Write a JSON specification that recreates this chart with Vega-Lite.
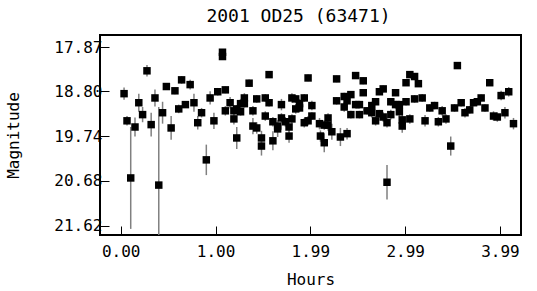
{
  "$schema": "https://vega.github.io/schema/vega-lite/v6.json",
  "autosize": {"type": "none"},
  "padding": {"left": 100, "top": 35, "right": 16, "bottom": 56},
  "width": 421,
  "height": 200,
  "background": "white",
  "title": {"text": "2001 OD25 (63471)", "font": "DejaVu Sans Mono", "fontSize": 18, "fontWeight": "normal", "color": "#000", "anchor": "middle", "dx": -12, "offset": 9},
  "config": {
    "view": {"stroke": "#000", "strokeWidth": 2},
    "axis": {"labelFont": "DejaVu Sans Mono", "labelFontSize": 16, "labelColor": "#000", "titleFont": "DejaVu Sans Mono", "titleFontSize": 16, "titleFontWeight": "normal", "titleColor": "#000", "tickColor": "#000", "tickWidth": 1, "tickSize": -9, "domain": false, "grid": false}
  },
  "data": {"values": [
    {"h":0.035,"mag":18.85,"err":0.13},{"h":0.066,"mag":19.42,"err":0.10},{"h":0.105,"mag":20.62,"err":1.07},{"h":0.15,"mag":19.55,"err":0.20},
    {"h":0.19,"mag":19.04,"err":0.19},{"h":0.23,"mag":19.29,"err":0.16},{"h":0.276,"mag":18.37,"err":0.12},{"h":0.32,"mag":19.50,"err":0.25},
    {"h":0.36,"mag":18.94,"err":0.18},{"h":0.40,"mag":20.77,"err":1.64},{"h":0.44,"mag":19.25,"err":0.23},{"h":0.48,"mag":18.70,"err":0.07},
    {"h":0.53,"mag":19.57,"err":0.25},{"h":0.57,"mag":18.79,"err":0.07},{"h":0.61,"mag":19.17,"err":0.09},{"h":0.64,"mag":18.56,"err":0.08},
    {"h":0.68,"mag":19.08,"err":0.07},{"h":0.73,"mag":18.66,"err":0.10},{"h":0.77,"mag":19.04,"err":0.19},{"h":0.81,"mag":19.46,"err":0.14},
    {"h":0.85,"mag":19.25,"err":0.10},{"h":0.90,"mag":20.24,"err":0.32},{"h":0.94,"mag":18.94,"err":0.14},{"h":0.98,"mag":19.42,"err":0.17},
    {"h":1.02,"mag":18.81,"err":0.08},{"h":1.07,"mag":17.98,"err":0.06},{"h":1.07,"mag":18.07,"err":0.06},{"h":1.10,"mag":18.77,"err":0.07},
    {"h":1.10,"mag":19.21,"err":0.10},{"h":1.15,"mag":19.04,"err":0.12},{"h":1.19,"mag":19.21,"err":0.10},{"h":1.19,"mag":19.38,"err":0.12},
    {"h":1.22,"mag":19.17,"err":0.08},{"h":1.22,"mag":19.78,"err":0.23},{"h":1.26,"mag":19.06,"err":0.10},{"h":1.26,"mag":19.23,"err":0.08},
    {"h":1.30,"mag":18.94,"err":0.10},{"h":1.30,"mag":19.06,"err":0.08},{"h":1.35,"mag":18.63,"err":0.08},{"h":1.39,"mag":19.21,"err":0.10},
    {"h":1.39,"mag":19.53,"err":0.17},{"h":1.43,"mag":18.96,"err":0.08},{"h":1.43,"mag":19.57,"err":0.12},{"h":1.48,"mag":19.78,"err":0.15},
    {"h":1.48,"mag":19.95,"err":0.20},{"h":1.52,"mag":18.94,"err":0.08},{"h":1.52,"mag":19.32,"err":0.10},{"h":1.56,"mag":18.45,"err":0.07},
    {"h":1.56,"mag":19.04,"err":0.08},{"h":1.60,"mag":19.44,"err":0.10},{"h":1.60,"mag":19.84,"err":0.20},{"h":1.65,"mag":19.53,"err":0.12},
    {"h":1.65,"mag":19.59,"err":0.17},{"h":1.69,"mag":19.08,"err":0.12},{"h":1.69,"mag":19.36,"err":0.10},{"h":1.73,"mag":19.44,"err":0.10},
    {"h":1.77,"mag":19.55,"err":0.12},{"h":1.77,"mag":19.74,"err":0.14},{"h":1.80,"mag":18.94,"err":0.10},{"h":1.80,"mag":19.38,"err":0.10},
    {"h":1.84,"mag":18.96,"err":0.08},{"h":1.84,"mag":19.17,"err":0.10},{"h":1.88,"mag":19.06,"err":0.10},{"h":1.88,"mag":19.15,"err":0.08},
    {"h":1.93,"mag":18.94,"err":0.08},{"h":1.93,"mag":19.46,"err":0.10},{"h":1.97,"mag":18.52,"err":0.07},{"h":1.97,"mag":19.42,"err":0.10},
    {"h":2.01,"mag":19.10,"err":0.10},{"h":2.01,"mag":19.32,"err":0.08},{"h":2.09,"mag":19.48,"err":0.12},{"h":2.10,"mag":19.74,"err":0.12},
    {"h":2.14,"mag":19.51,"err":0.10},{"h":2.14,"mag":19.88,"err":0.20},{"h":2.18,"mag":19.36,"err":0.10},{"h":2.18,"mag":19.51,"err":0.12},
    {"h":2.22,"mag":19.65,"err":0.17},{"h":2.27,"mag":18.54,"err":0.07},{"h":2.27,"mag":19.00,"err":0.08},{"h":2.31,"mag":19.76,"err":0.19},
    {"h":2.35,"mag":18.91,"err":0.08},{"h":2.35,"mag":19.13,"err":0.10},{"h":2.38,"mag":19.00,"err":0.08},{"h":2.38,"mag":19.69,"err":0.12},
    {"h":2.42,"mag":18.87,"err":0.07},{"h":2.42,"mag":19.29,"err":0.08},{"h":2.47,"mag":18.47,"err":0.07},{"h":2.47,"mag":19.08,"err":0.08},
    {"h":2.51,"mag":19.08,"err":0.08},{"h":2.51,"mag":19.29,"err":0.08},{"h":2.55,"mag":18.58,"err":0.07},{"h":2.55,"mag":18.83,"err":0.07},
    {"h":2.59,"mag":19.21,"err":0.08},{"h":2.64,"mag":19.10,"err":0.08},{"h":2.64,"mag":19.25,"err":0.10},{"h":2.68,"mag":19.02,"err":0.07},
    {"h":2.68,"mag":19.42,"err":0.10},{"h":2.72,"mag":18.81,"err":0.07},{"h":2.72,"mag":19.27,"err":0.08},{"h":2.76,"mag":18.75,"err":0.07},
    {"h":2.76,"mag":19.34,"err":0.10},{"h":2.80,"mag":19.46,"err":0.10},{"h":2.80,"mag":20.71,"err":0.36},{"h":2.84,"mag":19.02,"err":0.08},
    {"h":2.84,"mag":19.29,"err":0.10},{"h":2.89,"mag":18.83,"err":0.07},{"h":2.89,"mag":19.08,"err":0.08},{"h":2.93,"mag":19.08,"err":0.08},
    {"h":2.93,"mag":19.23,"err":0.10},{"h":2.96,"mag":19.40,"err":0.12},{"h":2.96,"mag":19.53,"err":0.14},{"h":3.00,"mag":18.62,"err":0.07},
    {"h":3.00,"mag":19.02,"err":0.08},{"h":3.04,"mag":18.45,"err":0.07},{"h":3.04,"mag":19.38,"err":0.10},{"h":3.09,"mag":18.49,"err":0.07},
    {"h":3.09,"mag":18.96,"err":0.08},{"h":3.13,"mag":18.64,"err":0.07},{"h":3.17,"mag":18.94,"err":0.08},{"h":3.20,"mag":19.42,"err":0.12},
    {"h":3.25,"mag":19.15,"err":0.08},{"h":3.30,"mag":19.10,"err":0.08},{"h":3.34,"mag":19.44,"err":0.10},{"h":3.38,"mag":19.21,"err":0.10},
    {"h":3.42,"mag":19.38,"err":0.10},{"h":3.47,"mag":19.95,"err":0.20},{"h":3.51,"mag":19.15,"err":0.08},{"h":3.54,"mag":18.26,"err":0.05},
    {"h":3.58,"mag":19.04,"err":0.08},{"h":3.62,"mag":19.25,"err":0.10},{"h":3.67,"mag":19.19,"err":0.08},{"h":3.71,"mag":19.04,"err":0.07},
    {"h":3.75,"mag":19.02,"err":0.07},{"h":3.79,"mag":18.94,"err":0.07},{"h":3.83,"mag":19.15,"err":0.08},{"h":3.88,"mag":18.62,"err":0.05},
    {"h":3.92,"mag":19.32,"err":0.10},{"h":3.96,"mag":19.34,"err":0.10},{"h":4.00,"mag":18.89,"err":0.10},{"h":4.04,"mag":19.25,"err":0.12},
    {"h":4.08,"mag":18.81,"err":0.10},{"h":4.13,"mag":19.48,"err":0.12}
  ]},
  "encoding": {
    "x": {"field": "h", "type": "quantitative", "title": "Hours",
      "scale": {"domain": [-0.218, 4.209], "nice": false, "zero": false},
      "axis": {"values": [0, 0.997, 1.994, 2.991, 3.988], "format": ".2f", "labelPadding": 17, "titlePadding": 12}},
    "y": {"field": "mag", "type": "quantitative", "title": "Magnitude",
      "scale": {"domain": [17.618, 21.818], "reverse": true, "nice": false, "zero": false},
      "axis": {"values": [17.87, 18.80, 19.74, 20.68, 21.62], "format": ".2f", "labelPadding": 7, "titlePadding": 32}}
  },
  "layer": [
    {"mark": {"type": "errorbar", "color": "#808080", "thickness": 1.5, "clip": true},
     "encoding": {"yError": {"field": "err"}}},
    {"mark": {"type": "point", "shape": "square", "filled": true, "color": "#000", "size": 56, "opacity": 1, "clip": true}}
  ]
}
